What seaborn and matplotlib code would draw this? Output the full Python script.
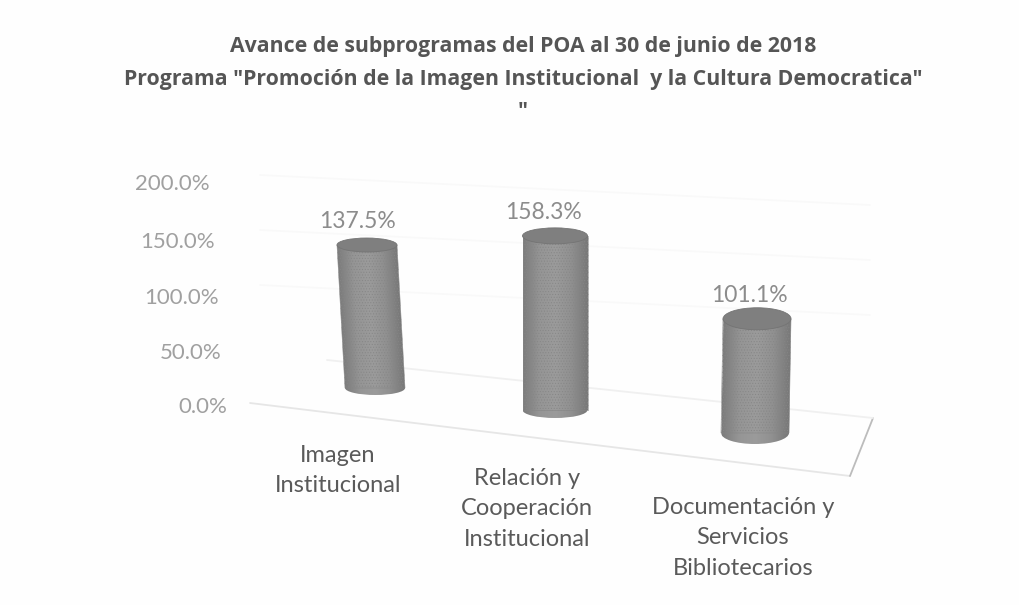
import numpy as np
import matplotlib
matplotlib.use("Agg")
import matplotlib.pyplot as plt
from matplotlib.colors import LinearSegmentedColormap
from matplotlib.patches import Ellipse
from matplotlib.transforms import Affine2D, ScaledTranslation, TransformedPatchPath
import pandas as pd
import seaborn as sns

CATEGORIES = ["Imagen\nInstitucional", "Relación y\nCooperación\nInstitucional",
              "Documentación y\nServicios\nBibliotecarios"]
VALUES = [137.5, 158.3, 101.1]
VALUE_LABELS = ["137.5%", "158.3%", "101.1%"]
Y_TICKS = [0, 50, 100, 150, 200]
Y_LABELS = ["0.0%", "50.0%", "100.0%", "150.0%", "200.0%"]
TITLE = ('Avance de subprogramas del POA al 30 de junio de 2018\n'
         'Programa "Promoción de la Imagen Institucional  y la Cultura Democratica"\n"')

W, H = 1019, 605
# axes box in picture pixels: 0-200% runs from y=405 up to y=180
LEFT, RIGHT, TOP, BOTTOM = 245, 875, 180, 405
PX_X = (RIGHT - LEFT) / 3
PX_Y = (BOTTOM - TOP) / 200

# fake 3d placement of each cylinder, in pixels
CENTERS = [375, 555, 755]
WIDTHS = [60, 65, 68]
FLOORS = [388, 410, 433]
LEANS = [-8, 0, 2]
STRETCH = [1.04, 1.10, 1.13]
CAP_HEIGHTS = [14, 16, 22]
LABEL_SHIFT = [-10, -12, -8]

sns.set_theme(style="white")
plt.rcParams["font.family"] = ["Lato", "DejaVu Sans"]
plt.rcParams["hatch.linewidth"] = 0.4

fig = plt.figure(figsize=(W / 100, H / 100), dpi=100, facecolor="#fefefe")
ax = fig.add_axes([LEFT / W, 1 - BOTTOM / H, (RIGHT - LEFT) / W, (BOTTOM - TOP) / H])
ax.set_facecolor("none")

df = pd.DataFrame({"programa": CATEGORIES, "avance": VALUES})
sns.barplot(data=df, x="programa", y="avance", width=1.0, ax=ax,
            facecolor="none", edgecolor="#868686", linewidth=0.4, hatch="......", zorder=4)
ax.set_xlim(-0.5, 2.5)
ax.set_ylim(0, 200)
ax.set_xlabel("")
ax.set_ylabel("")
sns.despine(ax=ax, left=True, bottom=True)
ax.grid(False)


def to_data(px, py):
    return (px - LEFT) / PX_X - 0.5, (BOTTOM - py) / PX_Y


# floor and back wall, very pale as on the scan
for x0, y0, x1, y1, col in [(250, 403, 850, 476, "#e6e6e6"), (850, 476, 873, 418, "#bcbcbc"),
                            (327, 360, 873, 418, "#f0f0f0")]:
    a = to_data(x0, y0)
    b = to_data(x1, y1)
    ax.plot([a[0], b[0]], [a[1], b[1]], color=col, lw=1.3, clip_on=False, zorder=1)
for up in [60, 115, 170]:
    a = to_data(260, 345 - up)
    b = to_data(870, 375 - up)
    ax.plot([a[0], b[0]], [a[1], b[1]], color="#f9f9f9", lw=1.2, clip_on=False, zorder=1)

shade = LinearSegmentedColormap.from_list("cyl", ["#7c7c7c", "#959595", "#9b9b9b", "#909090", "#787878"])
ramp = np.linspace(0, 1, 64).reshape(1, -1)

for i, (bar, val) in enumerate(zip(ax.patches, VALUES)):
    w = WIDTHS[i] / PX_X
    k = STRETCH[i] / PX_Y
    lean = LEANS[i] / PX_X / val
    base = (BOTTOM - FLOORS[i]) / PX_Y
    cx = (CENTERS[i] - LEFT) / PX_X - 0.5
    tr = Affine2D(np.array([[w, lean, cx - i * w], [0, k, base], [0, 0, 1]])) + ax.transData
    bar.set_transform(tr)
    bar.set_clip_on(False)

    cap = CAP_HEIGHTS[i] / PX_Y / k
    bottom = Ellipse((i, 0), 1.0, cap, transform=tr, facecolor="none", edgecolor="none",
                     clip_on=False, zorder=4)
    ax.add_patch(bottom)
    for patch in (bar, bottom):
        im = ax.imshow(ramp, cmap=shade, aspect="auto", extent=(i - 0.5, i + 0.5, -cap, val + cap),
                       transform=tr, zorder=3, interpolation="bilinear")
        im.set_clip_box(fig.bbox)
        im.set_clip_path(TransformedPatchPath(patch))
    top = Ellipse((i, val), 1.0, cap, transform=tr, facecolor="#7f7f7f", edgecolor="#747474",
                  lw=0.6, clip_on=False, zorder=5)
    ax.add_patch(top)

    lx = cx + LABEL_SHIFT[i] / PX_X + lean * val
    ly = base + k * val + 23 / PX_Y
    ax.text(lx, ly, VALUE_LABELS[i], ha="center", va="center", fontsize=16.5, color="#8c8c8c", clip_on=False)

ax.set_xlim(-0.5, 2.5)
ax.set_ylim(0, 200)

ax.set_yticks(Y_TICKS, Y_LABELS)
ax.tick_params(axis="y", length=0, pad=0, labelsize=16, labelcolor="#a0a0a0")
y_shift = [[-18, 0], [-23, 2], [-26, 3], [-30, 4], [-35, 2]]
for tick, (dx, dy) in zip(ax.yaxis.get_major_ticks(), y_shift):
    tick.label1.set_transform(tick.label1.get_transform()
                              + ScaledTranslation(dx / 100, -dy / 100, fig.dpi_scale_trans))

ax.tick_params(axis="x", length=0, pad=0, labelsize=17, labelcolor="#5a5a5a")
x_shift = [[-12, 40], [-33, 63], [-27, 92]]
for tick, (dx, dy) in zip(ax.xaxis.get_major_ticks(), x_shift):
    tick.label1.set_transform(tick.label1.get_transform()
                              + ScaledTranslation(dx / 100, -dy / 100, fig.dpi_scale_trans))
    tick.label1.set_linespacing(1.55)

fig.suptitle(TITLE, x=523 / W, y=1 - 36 / H, ha="center", va="top", fontsize=15.3, fontweight="bold",
             family=["Open Sans", "DejaVu Sans"], color="#555555", linespacing=1.72)

fig.savefig("out.png", dpi=100, facecolor=fig.get_facecolor())
